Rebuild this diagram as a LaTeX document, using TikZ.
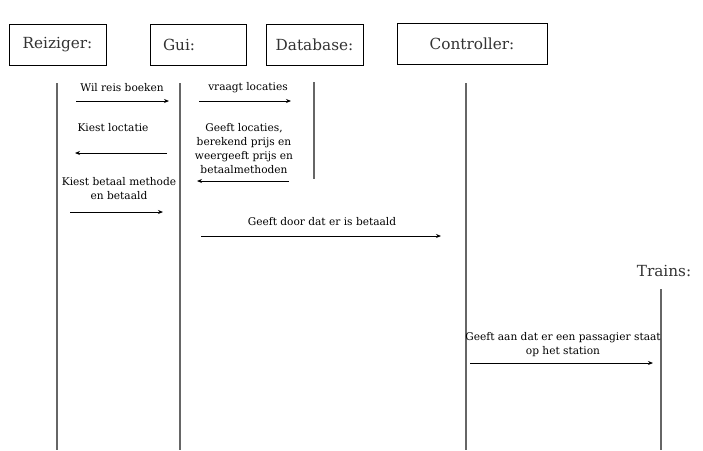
\documentclass[tikz,border=0pt]{standalone}
\usepackage{fontspec}
\setmainfont{DejaVu Serif}
\usetikzlibrary{arrows.meta}
\tikzset{
  actor/.style={draw=black, line width=1pt, inner sep=0pt, font=\fontsize{15.3}{17}\selectfont, text=black!80},
  lifeline/.style={draw=black!60, line width=2.8pt},
  msg/.style={draw=black, line width=1pt, -{Stealth[length=5pt,width=4pt]}},
  lbl/.style={inner sep=0pt, align=center, font=\fontsize{10.6}{14}\selectfont, text=black}
}
\begin{document}
\begin{tikzpicture}[x=1pt,y=-1pt]
\useasboundingbox (0,0) rectangle (703,450);
% actors
\node[actor, minimum width=97pt, minimum height=41pt] (reiz) at (57.5,44.5) {Reiziger:};
\node[actor, minimum width=96pt, minimum height=41pt, text width=70pt, align=left] (gui) at (198,44.5) {Gui:};
\node[actor, minimum width=97pt, minimum height=41pt] (db) at (314.5,44.5) {Database:};
\node[actor, minimum width=150pt, minimum height=41pt] (ctrl) at (472,44) {Controller:};
\node[inner sep=0pt, font=\fontsize{15.3}{17}\selectfont, text=black!80] (trains) at (664,271) {Trains:};
% lifelines
\coordinate (rT) at (57,83); \coordinate (rB) at (57,450);
\coordinate (gT) at (180,83); \coordinate (gB) at (180,450);
\coordinate (dT) at (314,82); \coordinate (dB) at (314,179);
\coordinate (cT) at (466,83); \coordinate (cB) at (466,450);
\coordinate (tT) at (661,289); \coordinate (tB) at (661,450);
\draw[lifeline] (rT) -- (rB);
\draw[lifeline] (gT) -- (gB);
\draw[lifeline] (dT) -- (dB);
\draw[lifeline] (cT) -- (cB);
\draw[lifeline] (tT) -- (tB);
% messages
\coordinate (m1a) at (76,101); \coordinate (m1b) at (169,101);
\draw[msg] (m1a) -- (m1b);
\node[lbl] (l1) at (122,88) {Wil reis boeken};
\coordinate (m2a) at (199,101); \coordinate (m2b) at (291,101);
\draw[msg] (m2a) -- (m2b);
\node[lbl] (l2) at (248,88) {vraagt locaties};
\coordinate (m3a) at (167,153); \coordinate (m3b) at (75,153);
\draw[msg] (m3a) -- (m3b);
\node[lbl] (l3) at (113,128) {Kiest loctatie};
\coordinate (m4a) at (289,181); \coordinate (m4b) at (197,181);
\draw[msg] (m4a) -- (m4b);
\node[lbl] (l4) at (244,148.5) {Geeft locaties,\\berekend prijs en\\weergeeft prijs en\\betaalmethoden};
\coordinate (m5a) at (70,212); \coordinate (m5b) at (163,212);
\draw[msg] (m5a) -- (m5b);
\node[lbl] (l5) at (119,189) {Kiest betaal methode\\en betaald};
\coordinate (m6a) at (201,236); \coordinate (m6b) at (441,236);
\draw[msg] (m6a) -- (m6b);
\node[lbl] (l6) at (322,222) {Geeft door dat er is betaald};
\coordinate (m7a) at (470,363); \coordinate (m7b) at (653,363);
\draw[msg] (m7a) -- (m7b);
\node[lbl] (l7) at (563,345) {Geeft aan dat er een passagier staat\\op het station};
\end{tikzpicture}
\end{document}
